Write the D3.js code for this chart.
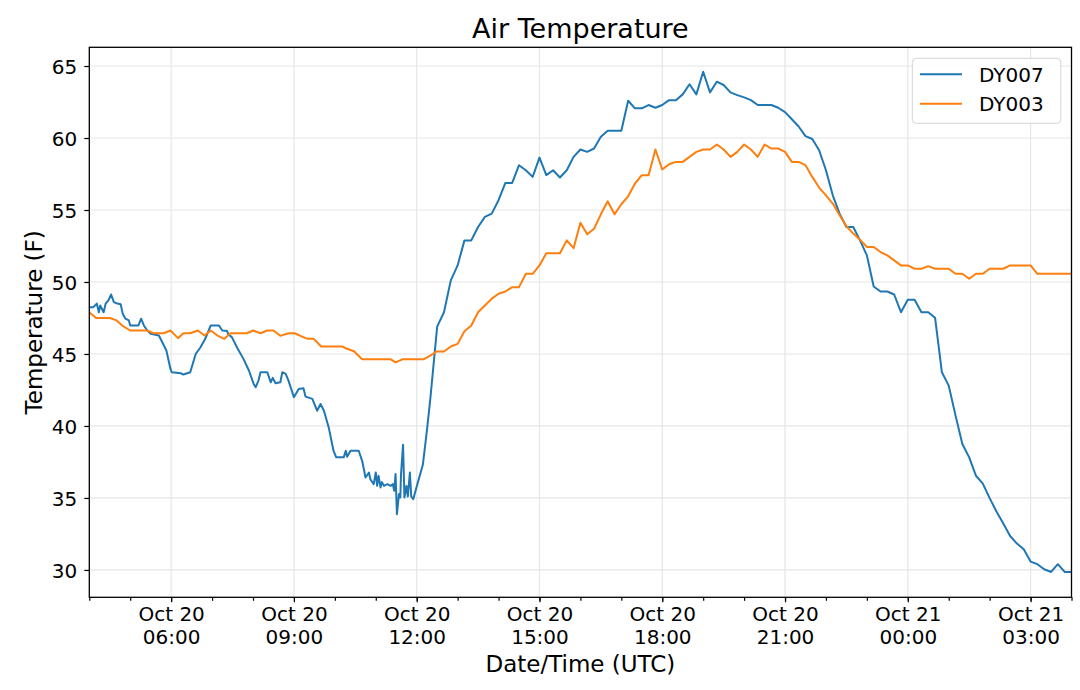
<!DOCTYPE html>
<html>

<script src="https://cdn.jsdelivr.net/npm/d3@7/dist/d3.min.js"></script>

<style>

  body, html {
    padding: 0;
    margin: 0;
    background: #fff;
  }

  svg, svg text {
    font-family: "DejaVu Sans", sans-serif;
  }

  .axis path, .axis line {
    stroke: #000;
  }

  .axis text {
    fill: #000;
    font-size: 20px;
    font-family: "DejaVu Sans", sans-serif;
  }

</style>

<body>
  <svg width="1080" height="690"></svg>

  <script>

    // readings (MM-DD HH:MM, UTC)
    var dy007Times = [
      '10-20 04:00', '10-20 04:06', '10-20 04:11', '10-20 04:14', '10-20 04:16', '10-20 04:21',
      '10-20 04:24', '10-20 04:28', '10-20 04:32', '10-20 04:36', '10-20 04:41', '10-20 04:46',
      '10-20 04:49', '10-20 04:53', '10-20 04:58', '10-20 05:00', '10-20 05:12', '10-20 05:16',
      '10-20 05:20', '10-20 05:25', '10-20 05:30', '10-20 05:42', '10-20 05:47', '10-20 05:53',
      '10-20 05:59', '10-20 06:01', '10-20 06:14', '10-20 06:18', '10-20 06:28', '10-20 06:36',
      '10-20 06:43', '10-20 06:50', '10-20 06:58', '10-20 07:10', '10-20 07:15', '10-20 07:22',
      '10-20 07:24', '10-20 07:29', '10-20 07:37', '10-20 07:46', '10-20 07:54', '10-20 08:01',
      '10-20 08:04', '10-20 08:08', '10-20 08:11', '10-20 08:21', '10-20 08:26', '10-20 08:29',
      '10-20 08:33', '10-20 08:40', '10-20 08:43', '10-20 08:48', '10-20 08:52', '10-20 09:00',
      '10-20 09:07', '10-20 09:14', '10-20 09:17', '10-20 09:27', '10-20 09:34', '10-20 09:39',
      '10-20 09:44', '10-20 09:51', '10-20 09:56', '10-20 09:58', '10-20 10:02', '10-20 10:13',
      '10-20 10:16', '10-20 10:18', '10-20 10:23', '10-20 10:35', '10-20 10:40', '10-20 10:45',
      '10-20 10:50', '10-20 10:52', '10-20 10:57', '10-20 11:00', '10-20 11:02', '10-20 11:04',
      '10-20 11:07', '10-20 11:09', '10-20 11:12', '10-20 11:17', '10-20 11:22', '10-20 11:25',
      '10-20 11:27', '10-20 11:29', '10-20 11:31', '10-20 11:34', '10-20 11:36', '10-20 11:37',
      '10-20 11:40', '10-20 11:42', '10-20 11:45', '10-20 11:47', '10-20 11:50', '10-20 11:52',
      '10-20 11:55', '10-20 12:01', '10-20 12:09', '10-20 12:15', '10-20 12:20', '10-20 12:30',
      '10-20 12:40', '10-20 12:50', '10-20 13:00', '10-20 13:10', '10-20 13:20', '10-20 13:30',
      '10-20 13:40', '10-20 13:50', '10-20 14:00', '10-20 14:10', '10-20 14:20', '10-20 14:30',
      '10-20 14:40', '10-20 14:50', '10-20 15:00', '10-20 15:10', '10-20 15:20', '10-20 15:30',
      '10-20 15:40', '10-20 15:50', '10-20 16:00', '10-20 16:10', '10-20 16:20', '10-20 16:30',
      '10-20 16:40', '10-20 17:00', '10-20 17:10', '10-20 17:20', '10-20 17:30', '10-20 17:40',
      '10-20 17:50', '10-20 18:00', '10-20 18:10', '10-20 18:20', '10-20 18:30', '10-20 18:40',
      '10-20 18:50', '10-20 19:00', '10-20 19:10', '10-20 19:20', '10-20 19:30', '10-20 19:40',
      '10-20 19:50', '10-20 20:00', '10-20 20:10', '10-20 20:20', '10-20 20:40', '10-20 20:50',
      '10-20 21:00', '10-20 21:10', '10-20 21:20', '10-20 21:30', '10-20 21:40', '10-20 21:50',
      '10-20 22:00', '10-20 22:10', '10-20 22:20', '10-20 22:30', '10-20 22:40', '10-20 22:50',
      '10-20 23:00', '10-20 23:10', '10-20 23:20', '10-20 23:30', '10-20 23:40', '10-20 23:50',
      '10-21 00:00', '10-21 00:10', '10-21 00:20', '10-21 00:30', '10-21 00:40', '10-21 00:50',
      '10-21 01:00', '10-21 01:10', '10-21 01:20', '10-21 01:30', '10-21 01:40', '10-21 01:50',
      '10-21 02:00', '10-21 02:10', '10-21 02:20', '10-21 02:30', '10-21 02:40', '10-21 02:50',
      '10-21 03:00', '10-21 03:10', '10-21 03:20', '10-21 03:30', '10-21 03:40', '10-21 03:50',
      '10-21 04:00'
    ];
    var dy007Temps = [
      48.25, 48.25, 48.5, 47.9, 48.37, 47.9,
      48.5, 48.72, 49.13, 48.6, 48.5, 48.45,
      47.8, 47.45, 47.33, 46.98, 46.98, 47.45,
      46.98, 46.63, 46.4, 46.28, 45.82, 45.24,
      43.96, 43.73, 43.66, 43.57, 43.73, 45.0,
      45.47, 46.05, 46.98, 46.98, 46.63, 46.59,
      46.35, 46.17, 45.42, 44.66, 43.85, 42.92,
      42.69, 43.15, 43.73, 43.73, 43.03, 43.34,
      42.97, 43.03, 43.73, 43.62, 43.15, 41.99,
      42.57, 42.62, 42.04, 41.88, 41.06, 41.53,
      41.06, 39.9, 38.75, 38.28, 37.82, 37.82,
      38.28, 37.86, 38.28, 38.28, 37.58, 36.42,
      36.77, 36.3, 35.96, 36.77, 35.84, 36.54,
      35.73, 36.1, 35.84, 35.96, 35.84, 35.96,
      35.5, 36.66, 33.87, 35.27, 35.03, 36.66,
      38.7, 35.03, 35.84, 35.1, 36.77, 35.1,
      34.92, 35.96, 37.3, 39.7, 41.9, 46.9,
      47.9, 50.11, 51.15, 52.89, 52.89, 53.82,
      54.52, 54.75, 55.68, 56.88, 56.88, 58.11,
      57.76, 57.3, 58.64, 57.42, 57.76, 57.26,
      57.76, 58.69, 59.2, 59.04, 59.27, 60.08,
      60.5, 60.5, 62.59, 62.06, 62.06, 62.29,
      62.1, 62.29, 62.63, 62.63, 63.03, 63.73,
      63.03, 64.6, 63.17, 63.91, 63.68, 63.17,
      62.98, 62.82, 62.63, 62.29, 62.29, 62.1,
      61.8, 61.3, 60.8, 60.13, 59.93, 59.15,
      57.76, 56.02, 54.75, 53.82, 53.82, 52.89,
      51.85, 49.69, 49.34, 49.34, 49.13, 47.9,
      48.76, 48.76, 47.9, 47.9, 47.51, 43.73,
      42.8, 40.72, 38.75, 37.82, 36.54, 36.0,
      34.99, 34.06, 33.22, 32.36, 31.83, 31.44,
      30.58, 30.4, 30.05, 29.86, 30.4, 29.86,
      29.86
    ];

    var dy003Times = [
      '10-20 04:00', '10-20 04:10', '10-20 04:30', '10-20 04:40', '10-20 04:50', '10-20 05:00',
      '10-20 05:25', '10-20 05:34', '10-20 05:49', '10-20 05:59', '10-20 06:10', '10-20 06:18',
      '10-20 06:28', '10-20 06:39', '10-20 06:49', '10-20 06:58', '10-20 07:08', '10-20 07:18',
      '10-20 07:27', '10-20 07:51', '10-20 08:00', '10-20 08:11', '10-20 08:21', '10-20 08:30',
      '10-20 08:40', '10-20 08:52', '10-20 09:01', '10-20 09:12', '10-20 09:20', '10-20 09:29',
      '10-20 09:40', '10-20 10:11', '10-20 10:18', '10-20 10:28', '10-20 10:40', '10-20 11:22',
      '10-20 11:29', '10-20 11:39', '10-20 12:10', '10-20 12:20', '10-20 12:29', '10-20 12:40',
      '10-20 12:50', '10-20 13:00', '10-20 13:10', '10-20 13:20', '10-20 13:30', '10-20 13:40',
      '10-20 13:50', '10-20 14:00', '10-20 14:10', '10-20 14:20', '10-20 14:30', '10-20 14:40',
      '10-20 14:50', '10-20 15:00', '10-20 15:10', '10-20 15:30', '10-20 15:40', '10-20 15:50',
      '10-20 16:00', '10-20 16:10', '10-20 16:20', '10-20 16:30', '10-20 16:40', '10-20 16:50',
      '10-20 17:00', '10-20 17:10', '10-20 17:20', '10-20 17:30', '10-20 17:40', '10-20 17:50',
      '10-20 18:00', '10-20 18:10', '10-20 18:20', '10-20 18:30', '10-20 18:40', '10-20 18:50',
      '10-20 19:00', '10-20 19:10', '10-20 19:20', '10-20 19:30', '10-20 19:40', '10-20 19:50',
      '10-20 20:00', '10-20 20:10', '10-20 20:20', '10-20 20:30', '10-20 20:40', '10-20 20:50',
      '10-20 21:00', '10-20 21:10', '10-20 21:20', '10-20 21:30', '10-20 21:40', '10-20 21:50',
      '10-20 22:00', '10-20 22:10', '10-20 22:20', '10-20 22:30', '10-20 22:40', '10-20 22:50',
      '10-20 23:00', '10-20 23:10', '10-20 23:20', '10-20 23:30', '10-20 23:40', '10-20 23:50',
      '10-21 00:00', '10-21 00:10', '10-21 00:20', '10-21 00:30', '10-21 00:40', '10-21 01:00',
      '10-21 01:10', '10-21 01:20', '10-21 01:30', '10-21 01:40', '10-21 01:50', '10-21 02:00',
      '10-21 02:20', '10-21 02:30', '10-21 03:00', '10-21 03:10', '10-21 04:00'
    ];
    var dy003Temps = [
      47.9, 47.5, 47.5, 47.33, 46.91, 46.63,
      46.63, 46.44, 46.44, 46.63, 46.1, 46.44,
      46.44, 46.63, 46.28, 46.63, 46.28, 46.05,
      46.44, 46.44, 46.63, 46.44, 46.63, 46.63,
      46.26, 46.44, 46.44, 46.21, 46.05, 46.05,
      45.52, 45.52, 45.36, 45.19, 44.63, 44.63,
      44.42, 44.63, 44.63, 44.89, 45.17, 45.17,
      45.52, 45.7, 46.58, 46.98, 47.9, 48.37,
      48.84, 49.18, 49.34, 49.64, 49.64, 50.57,
      50.57, 51.15, 52.0, 52.0, 52.89, 52.35,
      54.12, 53.31, 53.7, 54.7, 55.61, 54.7,
      55.4, 55.95, 56.84, 57.42, 57.42, 59.2,
      57.81, 58.18, 58.34, 58.34, 58.69, 59.04,
      59.2, 59.2, 59.55, 59.2, 58.69, 59.04,
      59.55, 59.2, 58.69, 59.55, 59.27, 59.27,
      59.04, 58.34, 58.34, 58.11, 57.3, 56.56,
      56.02, 55.45, 54.63, 53.87, 53.36, 52.94,
      52.43, 52.43, 52.08, 51.85, 51.5, 51.15,
      51.15, 50.92, 50.92, 51.1, 50.92, 50.92,
      50.57, 50.57, 50.22, 50.57, 50.57, 50.92,
      50.92, 51.15, 51.15, 50.57, 50.57
    ];

    var seriesNames = ['DY007', 'DY003'];
    var seriesColors = ['#1f77b4', '#ff7f0e'];
    var yTickValues = [30, 35, 40, 45, 50, 55, 60, 65];
    var timeRange = ['10-20 04:00', '10-21 04:00'];
    var tempRange = [28.1, 66.3];

    var parseTime = d3.utcParse('%m-%d %H:%M');

    var series = [
      dy007Times.map(function (t, i) { return { t: parseTime(t), v: dy007Temps[i] }; }),
      dy003Times.map(function (t, i) { return { t: parseTime(t), v: dy003Temps[i] }; })
    ];

    var plotL = 89.3, plotR = 1071.5, plotT = 47.3, plotB = 597.3;

    var x = d3.scaleUtc().domain(timeRange.map(parseTime)).range([plotL, plotR]),
        y = d3.scaleLinear().domain(tempRange).range([plotB, plotT]);

    var svg = d3.select('svg');

    // grid
    var grid = svg.append('g').attr('stroke', '#e6e6e6').attr('stroke-width', 1.2);
    grid.selectAll('.gx')
      .data(x.ticks(d3.utcHour.every(3)))
      .enter().append('line')
        .attr('x1', x).attr('x2', x)
        .attr('y1', plotT).attr('y2', plotB);
    grid.selectAll('.gy')
      .data(yTickValues)
      .enter().append('line')
        .attr('x1', plotL).attr('x2', plotR)
        .attr('y1', y).attr('y2', y);

    // lines
    var line = d3.line()
      .x(function (d) { return x(d.t); })
      .y(function (d) { return y(d.v); });

    svg.append('g').selectAll('path')
      .data(series)
      .enter().append('path')
        .attr('d', line)
        .attr('fill', 'none')
        .attr('stroke', function (d, i) { return seriesColors[i]; })
        .attr('stroke-width', 2)
        .attr('stroke-linejoin', 'round');

    // axes
    var xMinor = d3.axisBottom(x).ticks(d3.utcHour.every(1)).tickSize(3.5).tickFormat('');
    svg.append('g').attr('class', 'axis')
      .attr('transform', 'translate(0,' + plotB + ')')
      .call(xMinor)
      .call(function (g) { g.select('.domain').remove(); });

    var fmtDay = d3.utcFormat('%b %d'), fmtHour = d3.utcFormat('%H:%M');
    var xAxis = d3.axisBottom(x).ticks(d3.utcHour.every(3)).tickSize(5).tickPadding(6).tickFormat('');
    var gx = svg.append('g').attr('class', 'axis')
      .attr('transform', 'translate(0,' + plotB + ')')
      .call(xAxis);
    gx.select('.domain').remove();
    gx.selectAll('.tick text').remove();
    gx.selectAll('.tick').append('text')
      .attr('text-anchor', 'middle')
      .each(function (d) {
        var t = d3.select(this);
        t.append('tspan').attr('x', 0).attr('y', 23.5).text(fmtDay(d));
        t.append('tspan').attr('x', 0).attr('y', 47).text(fmtHour(d));
      });

    var yAxis = d3.axisLeft(y).tickValues(yTickValues).tickSize(5).tickPadding(7);
    var gy = svg.append('g').attr('class', 'axis')
      .attr('transform', 'translate(' + plotL + ',0)')
      .call(yAxis);
    gy.select('.domain').remove();
    gy.selectAll('.tick text').attr('dy', '0.36em');

    svg.selectAll('.axis .tick line').attr('stroke-width', 1.2);

    // frame
    svg.append('rect')
      .attr('x', plotL).attr('y', plotT)
      .attr('width', plotR - plotL).attr('height', plotB - plotT)
      .attr('fill', 'none').attr('stroke', '#000').attr('stroke-width', 1.3);

    // labels
    svg.append('text')
      .attr('x', (plotL + plotR) / 2).attr('y', 38)
      .attr('text-anchor', 'middle')
      .style('font-size', '27px')
      .text('Air Temperature');

    svg.append('text')
      .attr('x', (plotL + plotR) / 2).attr('y', 672)
      .attr('text-anchor', 'middle')
      .style('font-size', '23px')
      .text('Date/Time (UTC)');

    svg.append('text')
      .attr('transform', 'translate(42,' + (plotT + plotB) / 2 + ') rotate(-90)')
      .attr('text-anchor', 'middle')
      .style('font-size', '23px')
      .text('Temperature (F)');

    // legend
    var legend = svg.append('g');
    legend.append('rect')
      .attr('x', 912.3).attr('y', 58.3)
      .attr('width', 148.5).attr('height', 65)
      .attr('rx', 4)
      .attr('fill', '#fff').attr('fill-opacity', 0.8)
      .attr('stroke', '#d4d4d4').attr('stroke-width', 1);

    var item = legend.selectAll('.item')
      .data(seriesNames)
      .enter().append('g')
        .attr('transform', function (d, i) { return 'translate(0,' + (74.3 + i * 29.5) + ')'; });
    item.append('line')
      .attr('x1', 920).attr('x2', 962)
      .attr('stroke', function (d, i) { return seriesColors[i]; })
      .attr('stroke-width', 2);
    item.append('text')
      .attr('x', 979).attr('y', 7.3)
      .style('font-size', '20px')
      .text(function (d) { return d; });

  </script>
</body>
</html>
